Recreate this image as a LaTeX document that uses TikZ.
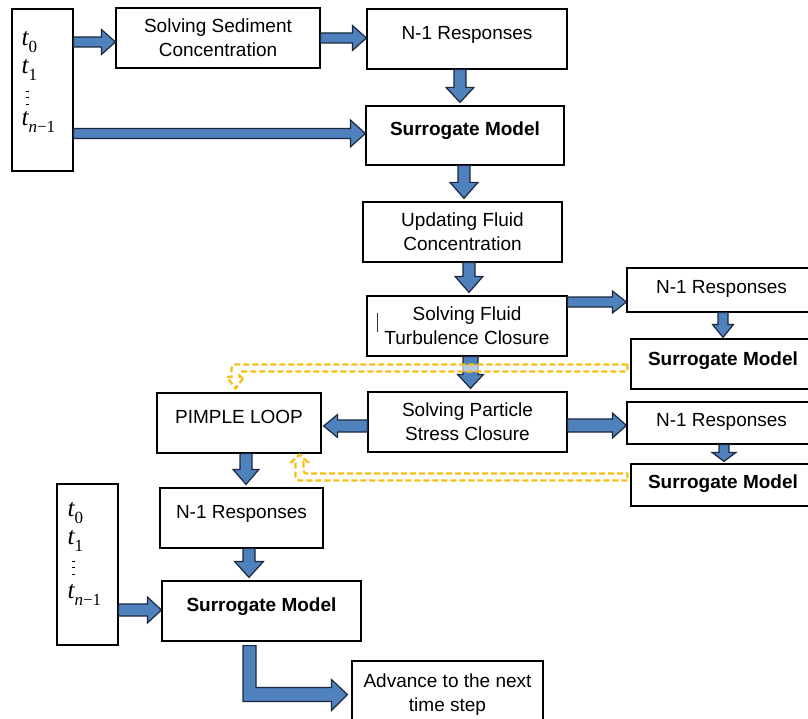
\documentclass[tikz,border=0pt]{standalone}
\usepackage{fontspec}
\setmainfont{Liberation Sans}
\newfontfamily\tserif{Liberation Serif}
\usetikzlibrary{calc}
\definecolor{abl}{RGB}{79,129,189}
\definecolor{aedge}{RGB}{28,40,62}
\definecolor{ylw}{RGB}{247,190,20}
% #1 start, #2 end, #3 half shaft, #4 half head, #5 head length
\newcommand{\blockarrow}[5]{%
  \coordinate (ba) at (#1);
  \coordinate (bb) at (#2);
  \coordinate (bc) at ($(bb)!#5!(ba)$);
  \filldraw[barrow] ($(ba)!#3!90:(bb)$) -- ($(bc)!#3!90:(bb)$) -- ($(bc)!#4!90:(bb)$) -- (bb)
    -- ($(bc)!#4!-90:(bb)$) -- ($(bc)!#3!-90:(bb)$) -- ($(ba)!#3!-90:(bb)$) -- cycle;
}
\newcommand{\tsub}[1]{{\fontsize{25}{25}\selectfont\tserif\itshape t}\raisebox{-7pt}{\fontsize{17}{17}\selectfont\tserif #1}}
\begin{document}
\begin{tikzpicture}[x=1pt,y=-1pt,
  box/.style={draw=black, line width=1.2pt, fill=white, inner sep=0pt, align=center,
              font=\fontsize{19}{24}\selectfont},
  sz/.style 2 args={minimum width=#1pt, minimum height=#2pt},
  lift/.style={text height=14pt, text depth=#1pt},
  barrow/.style={fill=abl, draw=aedge, line width=1.2pt, line join=miter},
  darrow/.style={draw=ylw, line width=2.2pt, dash pattern=on 6pt off 3pt, fill=white, fill opacity=0.6},
  tlab/.style={inner sep=0pt, anchor=base west}]
\useasboundingbox (0,0) rectangle (808,719);
\clip (0,0) rectangle (808,719);
\fill[white] (0,0) rectangle (808,719);

% boxes
\node[box, sz={61}{162}] (tt) at (42.5,90) {};
\node[box, sz={204}{60}] (sed) at (218,38) {Solving Sediment\\Concentration};
\node[box, sz={200}{60}, lift=13] (n1) at (467,39) {N-1 Responses};
\node[box, sz={198}{59}, lift=14] (sm1) at (465,135.5) {\bfseries Surrogate Model};
\node[box, sz={199}{60}] (upd) at (462.5,232) {Updating Fluid\\Concentration};
\node[box, sz={200}{60}] (tur) at (467,326) {Solving Fluid\\Turbulence Closure};
\node[box, sz={189}{44}, lift=6.4] (nr1) at (721.5,290) {N-1 Responses};
\node[box, sz={184}{50}, lift=10.4] (smr1) at (723,364) {\bfseries Surrogate Model};
\node[box, sz={199}{60}] (par) at (467.5,422) {Solving Particle\\Stress Closure};
\node[box, sz={189}{42}, lift=6.4] (nr2) at (721.5,423) {N-1 Responses};
\node[box, sz={184}{42}, lift=6.4] (smr2) at (723,485) {\bfseries Surrogate Model};
\node[box, sz={164}{60}, lift=12.4] (pim) at (239,423) {PIMPLE LOOP};
\node[box, sz={163}{60}, lift=12.4] (n3) at (241.5,518) {N-1 Responses};
\node[box, sz={61}{161}] (tb) at (87.5,564.5) {};
\node[box, sz={199}{60}, lift=12.4] (sm3) at (261.5,611) {\bfseries Surrogate Model};
\node[box, sz={191}{67}] (adv) at (447.5,694.5) {Advance to the next\\time step};

% stray cursor mark
\draw[line width=0.7pt, black!80] ($(tur.west)+(11,-13)$) -- ($(tur.west)+(11,6)$);

% time labels, top box
\node[tlab] (t0a) at ($(tt.north west)+(10,37)$) {\tsub{0}};
\node[tlab] (t1a) at ($(tt.north west)+(10,65)$) {\tsub{1}};
\node[tlab] (tna) at ($(tt.north west)+(10,117)$) {\tsub{\itshape n\upshape −1}};
\foreach \d in {83,89,96} \draw[line width=0.6pt] ($(tt.north west)+(15,\d)$) -- ++(2.5,0);
% time labels, bottom box
\node[tlab] (t0b) at ($(tb.north west)+(11,33)$) {\tsub{0}};
\node[tlab] (t1b) at ($(tb.north west)+(11,61)$) {\tsub{1}};
\node[tlab] (tnb) at ($(tb.north west)+(11,115)$) {\tsub{\itshape n\upshape −1}};
\foreach \d in {78,84,91} \draw[line width=0.6pt] ($(tb.north west)+(16,\d)$) -- ++(2.5,0);

% block arrows
\blockarrow{tt.east |- 0,42}{sed.west |- 0,42}{5pt}{12.5pt}{14pt}
\blockarrow{sed.east |- 0,38}{n1.west |- 0,38}{5pt}{12.5pt}{14pt}
\blockarrow{tt.east |- 0,133.5}{sm1.west |- 0,133.5}{5pt}{13.5pt}{15pt}
\blockarrow{n1.south -| 460,0}{$(sm1.north -| 460,0)+(0,-3)$}{6pt}{14pt}{15pt}
\blockarrow{sm1.south -| 464,0}{$(upd.north -| 464,0)+(0,-3)$}{6pt}{14pt}{16pt}
\blockarrow{upd.south -| 469,0}{$(tur.north -| 469,0)+(0,-3)$}{6pt}{14pt}{16pt}
\blockarrow{tur.south -| 470.5,0}{$(par.north -| 470.5,0)+(0,-3)$}{7.5pt}{13pt}{14pt}
\blockarrow{tur.east |- 0,302}{nr1.west |- 0,302}{5pt}{11pt}{14pt}
\blockarrow{nr1.south -| 723,0}{$(smr1.north -| 723,0)+(0,-1)$}{5pt}{10.5pt}{13pt}
\blockarrow{par.east |- 0,425.5}{nr2.west |- 0,425.5}{6.5pt}{12.5pt}{14pt}
\blockarrow{nr2.south -| 724,0}{$(smr2.north -| 724,0)+(0,-2)$}{5pt}{12pt}{9pt}
\blockarrow{par.west |- 0,426}{$(pim.east |- 0,426)+(2,0)$}{6pt}{11.5pt}{14pt}
\blockarrow{pim.south -| 246,0}{$(n3.north -| 246,0)+(0,-3)$}{6pt}{13pt}{15pt}
\blockarrow{n3.south -| 249,0}{$(sm3.north -| 249,0)+(0,-3)$}{6pt}{14.5pt}{16pt}
\blockarrow{tb.east |- 0,610}{sm3.west |- 0,610}{6pt}{13pt}{14pt}
% bent arrow to advance box
\coordinate (pa) at ($(sm3.south -| 250,0)+(0,4)$);
\coordinate (pb) at ($(adv.west)+(-4,0)$);
\filldraw[barrow] ($(pa)+(-7,0)$) -- ($(pa |- pb)+(-7,7)$) -- ($(pb)+(-16,7)$) -- ($(pb)+(-16,16)$)
  -- (pb) -- ($(pb)+(-16,-15)$) -- ($(pb)+(-16,-7)$) -- ($(pa |- pb)+(6,-7)$) -- ($(pa)+(6,0)$) -- cycle;

% dashed feedback arrows
\coordinate (d1) at ($(smr1.west)+(-3,0)$);
\filldraw[darrow] (d1 |- 0,364.5) [rounded corners=4pt] -- (231.5,364.5) [sharp corners] -- (231.5,377) -- (227,377)
  -- ($(pim.north -| 235.5,0)+(0,-4)$) -- (244,377) -- (239.5,377) [rounded corners=3pt] -- (239.5,371.5) [sharp corners] -- (d1 |- 0,371.5) -- cycle;
\coordinate (d2) at ($(smr2.west)+(-3,0)$);
\filldraw[darrow] (d2 |- 0,480.5) [rounded corners=4pt] -- (295.5,480.5) [sharp corners] -- (295.5,462) -- (291.5,462)
  -- ($(pim.south -| 299.5,0)+(0,1)$) -- (307.5,462) -- (303.5,462) [rounded corners=3pt] -- (303.5,473.5) [sharp corners] -- (d2 |- 0,473.5) -- cycle;
\end{tikzpicture}
\end{document}
